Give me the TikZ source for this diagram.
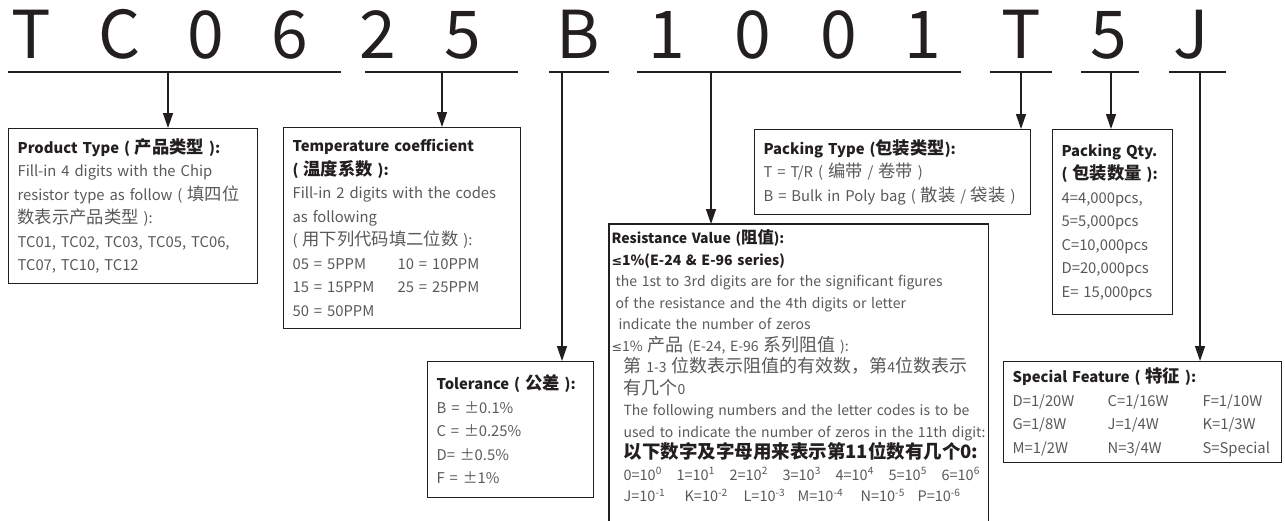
\documentclass[tikz,border=0pt]{standalone}
\usepackage{fontspec}
\setmainfont{Noto Sans CJK SC}
\newfontfamily\zh[Scale=1.17]{Noto Sans CJK SC}
\newfontfamily\symf[Scale=0.9]{DejaVu Sans}
\usetikzlibrary{positioning,arrows.meta}
\definecolor{ink}{HTML}{231F20}
\definecolor{bodygray}{HTML}{58595B}
\newcommand\boxhead[1]{{\bfseries\color{ink}#1}}
\newcommand\zhbig[1]{{\fontsize{18}{21.5}\selectfont #1}}
\newcommand\sx[1]{\textsuperscript{#1}}
\newcommand\lesym{{\symf ≤}}

\begin{document}
\begin{tikzpicture}[x=1pt,y=-1pt,
  every node/.style={font=\fontsize{14.8}{23.5}\selectfont},
  ltr/.style={font=\fontsize{66}{66}\selectfont,text=ink,anchor=base,inner sep=0pt},
  bx/.style={draw=ink,line width=1.2pt,anchor=north west,align=left,text=bodygray,inner xsep=9pt,inner ysep=0pt},
  bar/.style={ink,line width=2pt},
  fl/.style={-{Triangle[length=15pt,width=10pt]},ink,line width=1.4pt}]

\useasboundingbox (0,0) rectangle (1285,520);

% part number
\node[ltr] (c1) at (31,58) {T};
\node[ltr] (c2) at (120,58) {C};
\node[ltr] (c3) at (206,58) {0};
\node[ltr] (c4) at (290,58) {6};
\node[ltr] (c5) at (378,58) {2};
\node[ltr] (c6) at (463,58) {5};
\node[ltr] (c7) at (578,58) {B};
\node[ltr] (c8) at (667,58) {1};
\node[ltr] (c9) at (753,58) {0};
\node[ltr] (c10) at (839,58) {0};
\node[ltr] (c11) at (923,58) {1};
\node[ltr] (c12) at (1021,58) {T};
\node[ltr] (c13) at (1109,58) {5};
\node[ltr] (c14) at (1191,58) {J};

% underlines
\draw[bar] (8,72) -- (341,72); \draw[bar] (365,72) -- (518,72); \draw[bar] (549,72) -- (609,72);
\draw[bar] (637,72) -- (961,72); \draw[bar] (990,72) -- (1052,72); \draw[bar] (1081,72) -- (1139,72);
\draw[bar] (1169,72) -- (1226,72);
\coordinate (s1) at (168,72); \coordinate (s2) at (442,72); \coordinate (s3) at (562,72);
\coordinate (s4) at (711,72); \coordinate (s5) at (1021,72); \coordinate (s6) at (1111,72);
\coordinate (s7) at (1200,72);

\node[bx,text width=231pt,minimum height=155pt] (prod) at (8,128) {\boxhead{Product Type ( {\zh 产品类型} ):}\\
Fill-in 4 digits with the Chip\\
resistor type as follow ( {\zh 填四位}\\
{\zh 数表示产品类型} ):\\
TC01, TC02, TC03, TC05, TC06,\\
TC07, TC10, TC12};

\node[bx,text width=219pt,minimum height=201pt] (temp) at (283,127) {\boxhead{Temperature coefficient}\\
\boxhead{( {\zh 温度系数} ):}\\
Fill-in 2 digits with the codes\\
as following\\
( {\zh 用下列代码填二位数} ):\\
\makebox[105pt][l]{05 = 5PPM}10 = 10PPM\\
\makebox[105pt][l]{15 = 15PPM}25 = 25PPM\\
50 = 50PPM};

\node[bx,text width=148pt,minimum height=136pt] (tol) at (427,361) {\boxhead{Tolerance ( {\zh 公差} ):}\\
B = ±0.1\%\\
C = ±0.25\%\\
D= ±0.5\%\\
F = ±1\%};

\node[bx,draw=none,text width=374pt,inner xsep=2pt,inner ysep=5pt,font=\fontsize{14}{21.5}\selectfont] (resv) at (609,224) {\boxhead{Resistance Value ({\zh 阻值}):}\\
\boxhead{\lesym 1\%(E-24 \& E-96 series)}\\
\mbox{\hspace{4pt}the 1st to 3rd digits are for the significant figures}\\
\mbox{\hspace{4pt}of the resistance and the 4th digits or letter}\\
\mbox{\hspace{7pt}indicate the number of zeros}\\
\mbox{\lesym 1\% \zhbig{产品} (E-24, E-96 \zhbig{系列阻值} ):}\\
\mbox{\hspace{12pt}\zhbig{第} 1-3 \zhbig{位数表示阻值的有效数，第}4\zhbig{位数表示}}\\
\mbox{\hspace{12pt}\zhbig{有几个}0}\\
\mbox{\hspace{12pt}The following numbers and the letter codes is to be}\\
\mbox{\hspace{12pt}used to indicate the number of zeros in the 11th digit:}\\
\mbox{\hspace{12pt}\boxhead{\fontsize{18.5}{21.5}\selectfont 以下数字及字母用来表示第11位数有几个0:}}\\
\mbox{\hspace{12pt}\fontsize{14.5}{21.5}\selectfont\makebox[53pt][l]{0=10\sx{0}}\makebox[53pt][l]{1=10\sx{1}}\makebox[53pt][l]{2=10\sx{2}}\makebox[53pt][l]{3=10\sx{3}}\makebox[53pt][l]{4=10\sx{4}}\makebox[53pt][l]{5=10\sx{5}}6=10\sx{6}}\\
\mbox{\hspace{12pt}\fontsize{14.5}{21.5}\selectfont\makebox[61pt][l]{J=10\sx{-1}}\makebox[59pt][l]{K=10\sx{-2}}\makebox[54pt][l]{L=10\sx{-3}}\makebox[63pt][l]{M=10\sx{-4}}\makebox[57pt][l]{N=10\sx{-5}}P=10\sx{-6}}};
\coordinate (foot) at (0,524);
\draw[ink,line width=1.2pt] (resv.north west |- foot) -- (resv.north west) -- (resv.north east) -- (resv.north east |- foot);

\node[bx,text width=258pt,minimum height=85pt] (ptype) at (754,129) {\boxhead{Packing Type ({\zh 包装类型}):}\\
T = T/R ( {\zh 编带} / {\zh 卷带} )\\
\mbox{B = Bulk in Poly bag ( {\zh 散装} / {\zh 袋装} )}};

\node[bx,text width=102pt,minimum height=185pt] (pqty) at (1052,129) {\boxhead{Packing Qty.}\\
\boxhead{( {\zh 包装数量} ):}\\
4=4,000pcs,\\
5=5,000pcs\\
C=10,000pcs\\
D=20,000pcs\\
E= 15,000pcs};

\node[bx,text width=260pt,minimum height=101pt] (spec) at (1003,361) {\boxhead{Special Feature ( {\zh 特征} ):}\\
\makebox[95pt][l]{D=1/20W}\makebox[95pt][l]{C=1/16W}F=1/10W\\
\makebox[95pt][l]{G=1/8W}\makebox[95pt][l]{J=1/4W}K=1/3W\\
\makebox[95pt][l]{M=1/2W}\makebox[95pt][l]{N=3/4W}S=Special};

\draw[fl] (s1) -- (s1 |- prod.north); \draw[fl] (s2) -- (s2 |- temp.north); \draw[fl] (s3) -- (s3 |- tol.north);
\draw[fl] (s4) -- (s4 |- resv.north); \draw[fl] (s5) -- (s5 |- ptype.north); \draw[fl] (s6) -- (s6 |- pqty.north);
\draw[fl] (s7) -- (s7 |- spec.north);
\end{tikzpicture}
\end{document}
